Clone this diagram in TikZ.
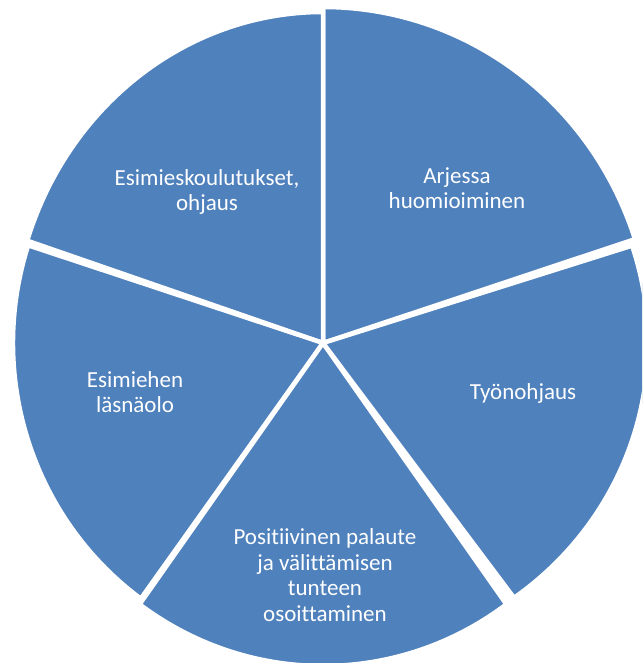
\documentclass[tikz,border=0pt]{standalone}
\usepackage{fontspec}
\setmainfont[Ligatures=NoCommon]{Carlito}
\definecolor{pieblue}{HTML}{4F81BD}
\tikzset{
  slice/.style={fill=pieblue,draw=white,line width=4.5pt,line join=miter},
  lbl/.style={text=white,align=center,inner sep=0pt,font=\fontsize{23}{25.5}\selectfont}
}
\begin{document}
\begin{tikzpicture}[x=1pt,y=1pt]
\useasboundingbox (0,0) rectangle (642,663);
\clip (0,0) rectangle (642,663);
\coordinate (mid) at (323,320);

\draw[slice] (mid) -- ++(18:328 and 336) arc[start angle=18,end angle=90,x radius=328,y radius=336] -- cycle;
\draw[slice] (mid) -- ++(90:311 and 331) arc[start angle=90,end angle=162,x radius=311,y radius=331] -- cycle;
\draw[slice] (mid) -- ++(162:310 and 316) arc[start angle=162,end angle=234,x radius=310,y radius=316] -- cycle;
\draw[slice] (mid) -- ++(234:312 and 323) arc[start angle=234,end angle=306,x radius=312,y radius=323] -- cycle;
\draw[slice] (mid) -- ++(306:325 and 315) arc[start angle=306,end angle=378,x radius=325,y radius=315] -- cycle;

\node[lbl] (arjessa) at (457,475) {Arjessa\\huomioiminen};
\node[lbl] (koulutus) at (207,471) {Esimieskoulutukset,\\ohjaus};
\node[lbl] (lasna) at (135,271) {Esimiehen\\läsnäolo};
\node[lbl] (tyo) at (523,270) {Työnohjaus};
\node[lbl] (palaute) at (325,88) {Positiivinen palaute\\ja välittämisen\\tunteen\\osoittaminen};
\end{tikzpicture}
\end{document}
